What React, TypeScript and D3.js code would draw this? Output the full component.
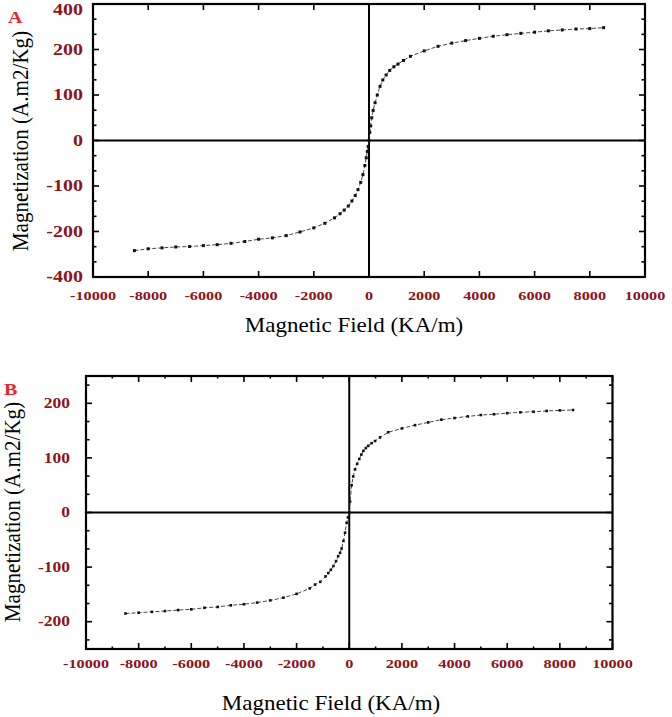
import React from "react";
import * as d3 from "d3";

// ---- Data: panel A ----
const fieldA = [-8500, -8000, -7500, -7000, -6500, -6000, -5500, -5000, -4500, -4000, -3500, -3000, -2500, -2000, -1600, -1250, -1050, -900, -750, -620, -500, -400, -300, -220, -150, -100, -60, -30, 0, 30, 60, 100, 150, 220, 300, 400, 500, 620, 750, 900, 1050, 1250, 1500, 2000, 2500, 3000, 3500, 4000, 4500, 5000, 5500, 6000, 6500, 7000, 7500, 8000, 8500];
const magA = [-242, -238, -236, -234, -233, -231, -229, -226, -222, -217, -214, -209, -201, -192, -182, -170, -161, -153, -144, -133, -121, -108, -92, -75, -55, -38, -24, -13, 0, 18, 32, 50, 66, 83, 100, 119, 133, 144, 154, 162, 168, 176, 185, 197, 207, 214, 219.5, 224.5, 229, 232.5, 235.5, 238, 241, 243, 245, 246, 248];

// ---- Data: panel B ----
const fieldB = [-8500, -8000, -7500, -7000, -6500, -6000, -5500, -5000, -4500, -4000, -3500, -3000, -2500, -2000, -1500, -1300, -1100, -900, -800, -700, -600, -500, -420, -350, -290, -220, -160, -100, -50, 0, 30, 90, 150, 220, 300, 380, 460, 540, 630, 720, 850, 980, 1170, 1480, 2000, 2500, 3000, 3500, 4000, 4500, 5000, 5500, 6000, 6500, 7000, 7500, 8000, 8500];
const magB = [-185, -183.5, -182, -180.5, -178.7, -177.4, -174.5, -173, -170, -168, -165, -161, -156, -149, -139, -132, -127, -117, -111, -105, -98, -89, -80, -74, -66, -52, -37, -19, -9, 0, 20, 50, 66, 79, 89, 98, 106, 113, 118, 122, 127, 131, 137.5, 147, 154, 160, 165, 170, 173, 176, 178.5, 180, 182, 183.5, 184.6, 186, 187, 187.7];

// ---- Tick labels ----
const xTickValues = [-10000, -8000, -6000, -4000, -2000, 0, 2000, 4000, 6000, 8000, 10000];
const xTickLabels = ["-10000", "-8000", "-6000", "-4000", "-2000", "0", "2000", "4000", "6000", "8000", "10000"];
const yTickValuesA = [300, 200, 100, 0, -100, -200, -300];
const yTickLabelsA = ["400", "200", "100", "0", "-100", "-200", "-400"];
const yTickValuesB = [200, 100, 0, -100, -200];
const yTickLabelsB = ["200", "100", "0", "-100", "-200"];

const xTitle = "Magnetic Field (KA/m)";
const yTitle = "Magnetization (A.m2/Kg)";

const LABEL_RED = "#8e1420";
const SERIF = "Liberation Serif, serif";

type PanelProps = {
  letter: string;
  field: number[];
  mag: number[];
  yDomain: [number, number];
  yTickValues: number[];
  yTickLabels: string[];
  box: { left: number; right: number; top: number; bottom: number };
  xMinor: boolean;
  yLabelRight: number;
  yLabelSize: number;
  xLabelY: number;
  xTitleX: number;
  xTitleY: number;
  yTitleX: number;
  yTitleY: number;
  letterX: number;
  letterY: number;
  markerSize: number;
};

function Panel(p: PanelProps) {
  const { box } = p;
  const x = d3.scaleLinear().domain([-10000, 10000]).range([box.left, box.right]);
  const y = d3.scaleLinear().domain(p.yDomain).range([box.bottom, box.top]);
  const pts = p.field.map((f, i) => [f, p.mag[i]] as [number, number]);
  const line = d3.line<[number, number]>().x((d) => x(d[0])).y((d) => y(d[1]));

  const yMinor = d3.range(Math.ceil(p.yDomain[0] * 3 / 100), Math.floor(p.yDomain[1] * 3 / 100) + 1).map((i) => (i * 100) / 3);
  const xMinorTicks = p.xMinor ? d3.range(-9000, 10000, 2000) : [];
  const majorLen = 6;
  const minorLen = 3.5;
  const ms = p.markerSize;

  return (
    <g>
      <line x1={box.left} x2={box.right} y1={y(0)} y2={y(0)} stroke="#000" strokeWidth={2} />
      <line x1={x(0)} x2={x(0)} y1={box.top} y2={box.bottom} stroke="#000" strokeWidth={2} />

      {yMinor.map((v, i) => {
        const isMajor = Math.abs(v / 100 - Math.round(v / 100)) < 1e-6;
        const len = isMajor ? majorLen : minorLen;
        return (
          <g key={"ym" + i}>
            <line x1={box.left} x2={box.left + len} y1={y(v)} y2={y(v)} stroke="#000" strokeWidth={1.6} />
            <line x1={box.right} x2={box.right - len} y1={y(v)} y2={y(v)} stroke="#000" strokeWidth={1.6} />
          </g>
        );
      })}
      {xTickValues.map((v, i) => (
        <g key={"xt" + i}>
          <line x1={x(v)} x2={x(v)} y1={box.bottom} y2={box.bottom - majorLen} stroke="#000" strokeWidth={1.6} />
          <line x1={x(v)} x2={x(v)} y1={box.top} y2={box.top + majorLen} stroke="#000" strokeWidth={1.6} />
        </g>
      ))}
      {xMinorTicks.map((v, i) => (
        <g key={"xm" + i}>
          <line x1={x(v)} x2={x(v)} y1={box.bottom} y2={box.bottom - 2.5} stroke="#000" strokeWidth={1.6} />
          <line x1={x(v)} x2={x(v)} y1={box.top} y2={box.top + 2.5} stroke="#000" strokeWidth={1.6} />
        </g>
      ))}

      <rect x={box.left} y={box.top} width={box.right - box.left} height={box.bottom - box.top} fill="none" stroke="#000" strokeWidth={2.2} />

      <path d={line(pts) || ""} fill="none" stroke="#333" strokeWidth={0.9} strokeDasharray="4,2" />
      {pts.map((d, i) => (
        <rect key={"p" + i} x={x(d[0]) - ms / 2} y={y(d[1]) - ms / 2} width={ms} height={ms} fill="#111" />
      ))}

      {p.yTickValues.map((v, i) => (
        <text
          key={"yl" + i}
          transform={`translate(${p.yLabelRight},${Math.max(y(v) + p.yLabelSize * 0.34, 14.5)}) scale(1.25,1)`}
          textAnchor="end"
          fontFamily={SERIF}
          fontWeight="bold"
          fontSize={p.yLabelSize}
          fill={LABEL_RED}
        >
          {p.yTickLabels[i]}
        </text>
      ))}
      {xTickValues.map((v, i) => (
        <text
          key={"xl" + i}
          transform={`translate(${x(v)},${p.xLabelY}) scale(1.25,1)`}
          textAnchor="middle"
          fontFamily={SERIF}
          fontWeight="bold"
          fontSize={13}
          fill={LABEL_RED}
        >
          {xTickLabels[i]}
        </text>
      ))}

      <text
        transform={`translate(${p.xTitleX},${p.xTitleY}) scale(1.15,1)`}
        textAnchor="middle"
        fontFamily={SERIF}
        fontSize={20}
        fill="#000"
      >
        {xTitle}
      </text>
      <text
        transform={`translate(${p.yTitleX},${p.yTitleY}) rotate(-90) scale(1.03,1.1)`}
        textAnchor="middle"
        fontFamily={SERIF}
        fontSize={20.5}
        fill="#000"
      >
        {yTitle}
      </text>
      <text
        transform={`translate(${p.letterX},${p.letterY}) scale(1.25,1)`}
        fontFamily={SERIF}
        fontWeight="bold"
        fontSize={16}
        fill="#e8262b"
      >
        {p.letter}
      </text>
    </g>
  );
}

export default function App() {
  return (
    <svg width={672} height={717} style={{ position: "absolute", left: 0, top: 0, background: "#fff" }}>
      <rect x={0} y={0} width={672} height={717} fill="#fff" />
      <Panel
        letter="A"
        field={fieldA}
        mag={magA}
        yDomain={[-300, 300]}
        yTickValues={yTickValuesA}
        yTickLabels={yTickLabelsA}
        box={{ left: 93, right: 645, top: 4, bottom: 277 }}
        xMinor={false}
        yLabelRight={83}
        yLabelSize={16}
        xLabelY={299.5}
        xTitleX={354}
        xTitleY={332}
        yTitleX={28}
        yTitleY={141}
        letterX={8}
        letterY={23}
        markerSize={3}
      />
      <Panel
        letter="B"
        field={fieldB}
        mag={magB}
        yDomain={[-250, 250]}
        yTickValues={yTickValuesB}
        yTickLabels={yTickLabelsB}
        box={{ left: 86, right: 612.5, top: 376, bottom: 649 }}
        xMinor={true}
        yLabelRight={70}
        yLabelSize={14}
        xLabelY={667.5}
        xTitleX={331}
        xTitleY={710}
        yTitleX={20}
        yTitleY={512}
        letterX={4}
        letterY={395}
        markerSize={2.6}
      />
    </svg>
  );
}
